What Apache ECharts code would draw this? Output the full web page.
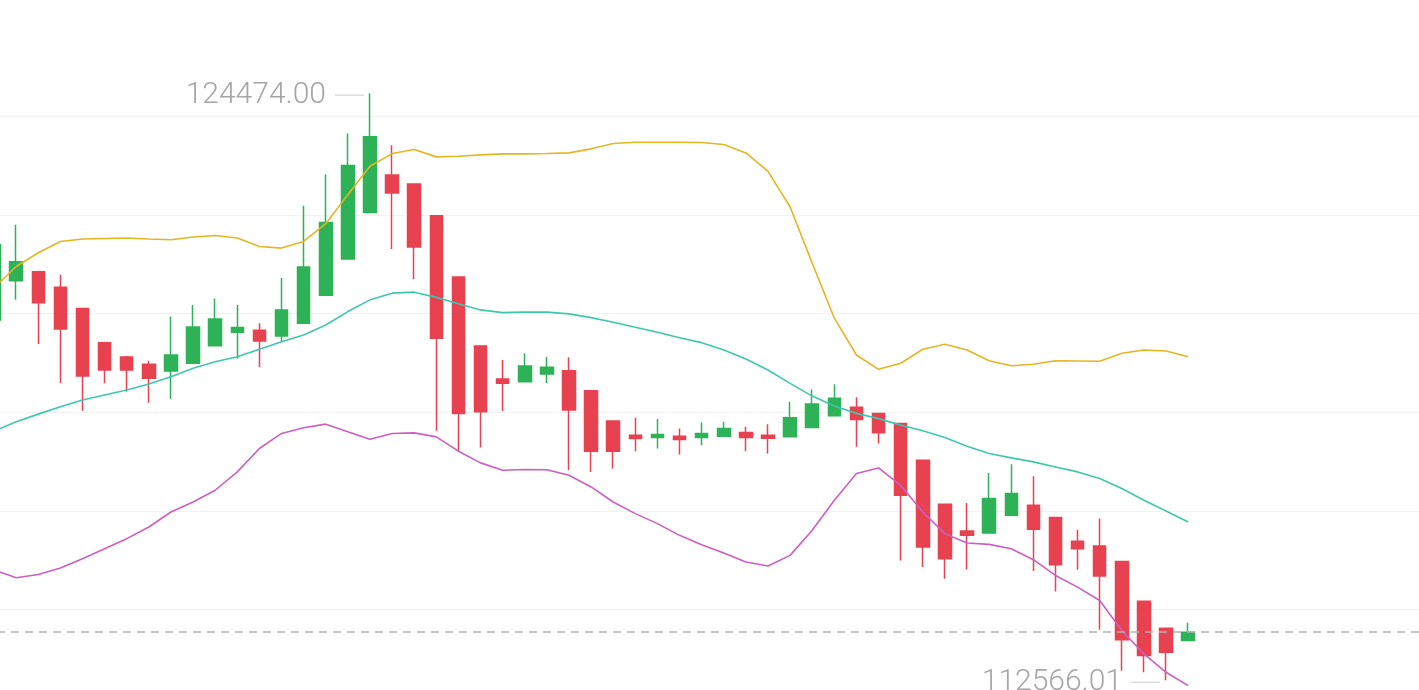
<!DOCTYPE html>
<html>
<head>
<meta charset="utf-8">
<script src="https://cdn.jsdelivr.net/npm/echarts@6/dist/echarts.min.js"></script>
<style>
  html, body { margin: 0; padding: 0; background: #ffffff; overflow: hidden; width: 1419px; height: 690px; position: relative; }
  #chart { position: absolute; left: -17.2px; top: 0; width: 1480px; height: 712px; }
</style>
</head>
<body>
<div id="chart"></div>
<script>
// ---- data: [open, close, low, high] ----
const candles = [
  [119874, 121398, 119610, 121764],
  [120667, 121053, 120281, 121805],
  [120850, 120220, 119386, 120870],
  [120535, 119691, 118594, 120789],
  [120108, 118736, 118031, 120120],
  [119413, 118858, 118587, 119430],
  [119122, 118858, 118417, 119140],
  [118974, 118689, 118193, 119047],
  [118837, 119163, 118274, 119941],
  [118994, 119732, 118980, 120179],
  [119352, 119894, 119340, 120307],
  [119624, 119718, 119087, 120179],
  [119665, 119447, 118913, 119807],
  [119549, 120077, 119447, 120722],
  [119807, 120945, 119790, 122191],
  [120372, 121852, 120360, 122827],
  [121108, 123004, 121095, 123654],
  [122055, 123587, 122040, 124474],
  [122815, 122449, 121311, 123417],
  [122632, 121352, 120701, 122645],
  [121988, 119502, 117624, 122000],
  [120742, 117978, 117197, 120755],
  [119346, 118010, 117287, 119360],
  [118675, 118587, 118024, 119061],
  [118620, 118939, 118610, 119197],
  [118776, 118913, 118587, 119128],
  [118844, 118045, 116825, 119116],
  [118437, 117211, 116791, 118450],
  [117821, 117211, 116860, 117830],
  [117537, 117470, 117211, 117888],
  [117490, 117551, 117266, 117862],
  [117516, 117449, 117144, 117673],
  [117490, 117571, 117333, 117795],
  [117516, 117673, 117505, 117807],
  [117591, 117490, 117211, 117705],
  [117537, 117476, 117165, 117760],
  [117502, 117888, 117490, 118213],
  [117693, 118167, 117680, 118465],
  [117929, 118283, 117920, 118567],
  [118100, 117856, 117299, 118303],
  [117978, 117583, 117368, 117990],
  [117774, 116317, 114996, 117790],
  [117029, 115266, 114860, 117040],
  [116134, 115031, 114624, 116145],
  [115592, 115504, 114813, 116161],
  [115551, 116250, 115540, 116770],
  [115911, 116352, 115900, 116947],
  [116114, 115626, 114779, 116703],
  [115864, 114909, 114366, 115875],
  [115382, 115234, 114807, 115620],
  [115287, 114677, 113587, 115844],
  [114976, 113384, 112760, 114990],
  [114169, 113065, 112726, 114180],
  [113620, 113132, 112566.01, 113630],
  [113370, 113539, 113360, 113730]
];

const bollUpper = [
  120524, 120957, 121236, 121466, 121514, 121526, 121535, 121514, 121500, 121555,
  121587, 121535, 121364, 121331, 121466, 121825, 122415, 122990, 123248, 123329,
  123181, 123193, 123222, 123242, 123242, 123248, 123262, 123344, 123451, 123478,
  123478, 123478, 123472, 123431, 123262, 122888, 122165, 121026, 119909, 119163,
  118872, 118994, 119278, 119380, 119264, 119047, 118945, 118974, 119047, 119041,
  119035, 119197, 119264, 119244, 119128
];
const bollMid = [
  117618, 117807, 117963, 118112, 118248, 118350, 118451, 118573, 118722, 118892,
  119026, 119128, 119278, 119433, 119569, 119772, 120043, 120281, 120417, 120437,
  120331, 120203, 120077, 120022, 120031, 120031, 119996, 119921, 119827, 119726,
  119624, 119514, 119413, 119264, 119081, 118858, 118587, 118329, 118126, 117978,
  117872, 117740, 117624, 117490, 117313, 117165, 117075, 116994, 116892, 116791,
  116657, 116453, 116216, 115998, 115774
];
const bollLower = [
  114801, 114644, 114711, 114840, 115031, 115234, 115437, 115673, 115978, 116181,
  116419, 116791, 117266, 117571, 117685, 117760, 117604, 117455, 117571, 117583,
  117502, 117211, 116974, 116825, 116839, 116835, 116724, 116486, 116181, 115945,
  115742, 115504, 115315, 115144, 114962, 114884, 115098, 115606, 116216, 116758,
  116872, 116520, 115978, 115539, 115348, 115321, 115234, 115010, 114691, 114453,
  114183, 113573, 113100, 112726, 112455
];

const lastPrice = 113539;
const highIndex = 17, highValue = 124474.00;
const lowIndex = 53, lowValue = 112566.01;
const yTicks = { min: 112000, max: 126000, step: 2000 };
const extraSlots = 11; // empty room right of the last candle

const categories = [];
for (let i = 0; i < candles.length + extraSlots; i++) categories.push(String(i + 1));

// ---- chart ----
const RED = '#e8414f', GREEN = '#2eb257';
const slotW = 22.113;
const chart = echarts.init(document.getElementById('chart'), null, { renderer: 'canvas' });

function extremeLabel(text) {
  return {
    show: true,
    position: 'left',
    distance: 6,
    offset: [0, 2],
    formatter: '{t|' + text + '}{s| }{l|}',
    rich: {
      t: { fontFamily: 'Roboto', fontWeight: 300, fontSize: 30, color: '#a6a6a6', verticalAlign: 'middle' },
      s: { width: 9, fontSize: 10, verticalAlign: 'middle' },
      l: { width: 29, height: 1, backgroundColor: '#cccccc', verticalAlign: 'middle' }
    }
  };
}

const option = {
  animation: false,
  backgroundColor: '#ffffff',
  grid: {
    left: 0,
    width: slotW * categories.length,
    top: 17.9,
    height: 690.2
  },
  xAxis: {
    type: 'category',
    data: categories,
    boundaryGap: true,
    show: false
  },
  yAxis: {
    type: 'value',
    min: yTicks.min,
    max: yTicks.max,
    interval: yTicks.step,
    axisLine: { show: false },
    axisTick: { show: false },
    axisLabel: { show: false },
    splitLine: {
      show: true,
      lineStyle: {
        width: 1,
        color: ['#f2f2f2', '#f2f2f2', '#f2f2f2', '#f2f2f2', '#f2f2f2', '#f2f2f2', '#f2f2f2', 'rgba(0,0,0,0)']
      }
    }
  },
  series: [
    {
      type: 'candlestick',
      data: candles,
      barWidth: 13,
      clip: false,
      itemStyle: {
        color: GREEN,
        color0: RED,
        borderColor: GREEN,
        borderColor0: RED,
        borderWidth: 1.5
      },
      markLine: {
        silent: true,
        symbol: ['none', 'none'],
        label: { show: false },
        lineStyle: { color: '#b3b3b3', type: [8, 6], width: 1.5 },
        data: [{ yAxis: lastPrice }]
      },
      markPoint: {
        silent: true,
        symbol: 'circle',
        symbolSize: 0,
        itemStyle: { color: 'rgba(0,0,0,0)' },
        data: [
          { coord: [highIndex, highValue], label: extremeLabel(highValue.toFixed(2)) },
          { coord: [lowIndex, lowValue], label: extremeLabel(lowValue.toFixed(2)) }
        ]
      }
    },
    {
      type: 'line', data: bollUpper, symbol: 'none', clip: false,
      lineStyle: { color: '#e6b524', width: 1.6 }, z: 3
    },
    {
      type: 'line', data: bollMid, symbol: 'none', clip: false,
      lineStyle: { color: '#3ec7ad', width: 1.6 }, z: 3
    },
    {
      type: 'line', data: bollLower, symbol: 'none', clip: false,
      lineStyle: { color: '#cc5fbf', width: 1.6 }, z: 3
    }
  ]
};
chart.setOption(option);
</script>
</body>
</html>
